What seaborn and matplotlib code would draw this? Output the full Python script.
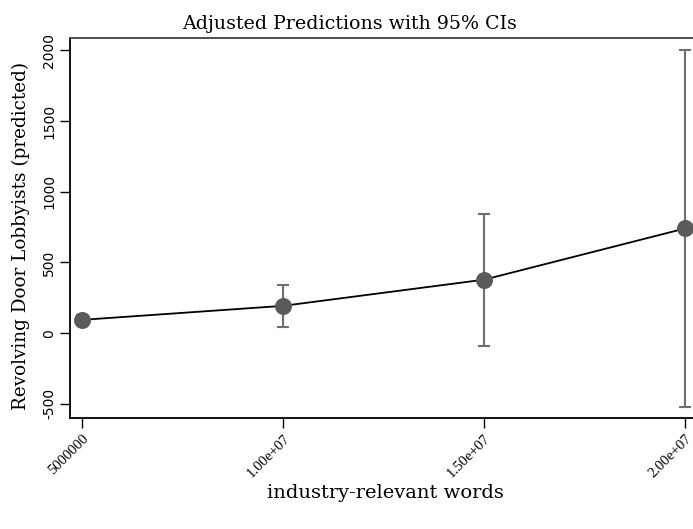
import matplotlib
matplotlib.use("Agg")
import matplotlib.pyplot as plt
from matplotlib.font_manager import FontProperties
import seaborn as sns
import pandas as pd

# data
words = [5000000, 10000000, 15000000, 20000000]
predicted = [94, 193, 378, 740]
ci_low = [65, 40, -90, -520]
ci_high = [125, 343, 846, 2004]
x_tick_labels = ["5000000", "1.00e+07", "1.50e+07", "2.00e+07"]
y_ticks = [-500, 0, 500, 1000, 1500, 2000]

df = pd.DataFrame({"words": words, "pred": predicted, "lo": ci_low, "hi": ci_high})

sns.set_theme(style="white")
plt.rcParams["font.family"] = ["DejaVu Serif"]
plt.rcParams["text.color"] = "black"
plt.rcParams["axes.labelcolor"] = "black"
plt.rcParams["xtick.color"] = "black"
plt.rcParams["ytick.color"] = "black"

fig = plt.figure(figsize=(6.93, 5.29), dpi=100)
ax = fig.add_axes([70/693, 111/529, 631/693, 380/529])

err_color = "#6e6e6e"
ax.errorbar(df["words"], df["pred"],
            yerr=[df["pred"] - df["lo"], df["hi"] - df["pred"]],
            fmt="none", ecolor=err_color, elinewidth=1.5, capsize=4.5,
            capthick=1.5, zorder=1)
sns.lineplot(data=df, x="words", y="pred", ax=ax, color="black",
             linewidth=1.3, zorder=2)
sns.scatterplot(data=df, x="words", y="pred", ax=ax, color="#5a5a5a",
                s=150, edgecolor="#5a5a5a", linewidth=0, zorder=3)

ax.set_xlim(4.70e6, 2.04e7)
ax.set_ylim(-600, 2087)
ax.set_xticks(words)
xfp = FontProperties(family="Liberation Serif", size=10.5)
ax.set_xticklabels(x_tick_labels, rotation=45, ha="right",
                   rotation_mode="anchor", fontproperties=xfp)
ax.set_yticks(y_ticks)
yfp = FontProperties(family="DejaVu Sans", size=10)
ax.set_yticklabels([str(v) for v in y_ticks], rotation=90, va="center",
                   fontproperties=yfp)
ax.tick_params(axis="both", direction="out", length=7, width=1,
               color="black", labelcolor="black", bottom=True, left=True)
ax.tick_params(axis="x", pad=3)
ax.tick_params(axis="y", pad=3)

for s in ["left", "bottom"]:
    ax.spines[s].set_color("black")
    ax.spines[s].set_linewidth(1.3)
ax.spines["top"].set_color("#404040")
ax.spines["top"].set_linewidth(1.3)
ax.spines["right"].set_visible(False)

ax.set_xlabel("industry-relevant words", fontsize=14, color="black")
ax.set_ylabel("Revolving Door Lobbyists (predicted)", fontsize=13.2,
              color="black")
ax.xaxis.set_label_coords(0.5, -0.174)
ax.yaxis.set_label_coords(-0.063, 0.479)
fig.text(350/693, 1 - 29.3/529, "Adjusted Predictions with 95% CIs",
         ha="center", va="baseline", fontsize=13.7, color="black")

fig.savefig("out.png", dpi=100)
